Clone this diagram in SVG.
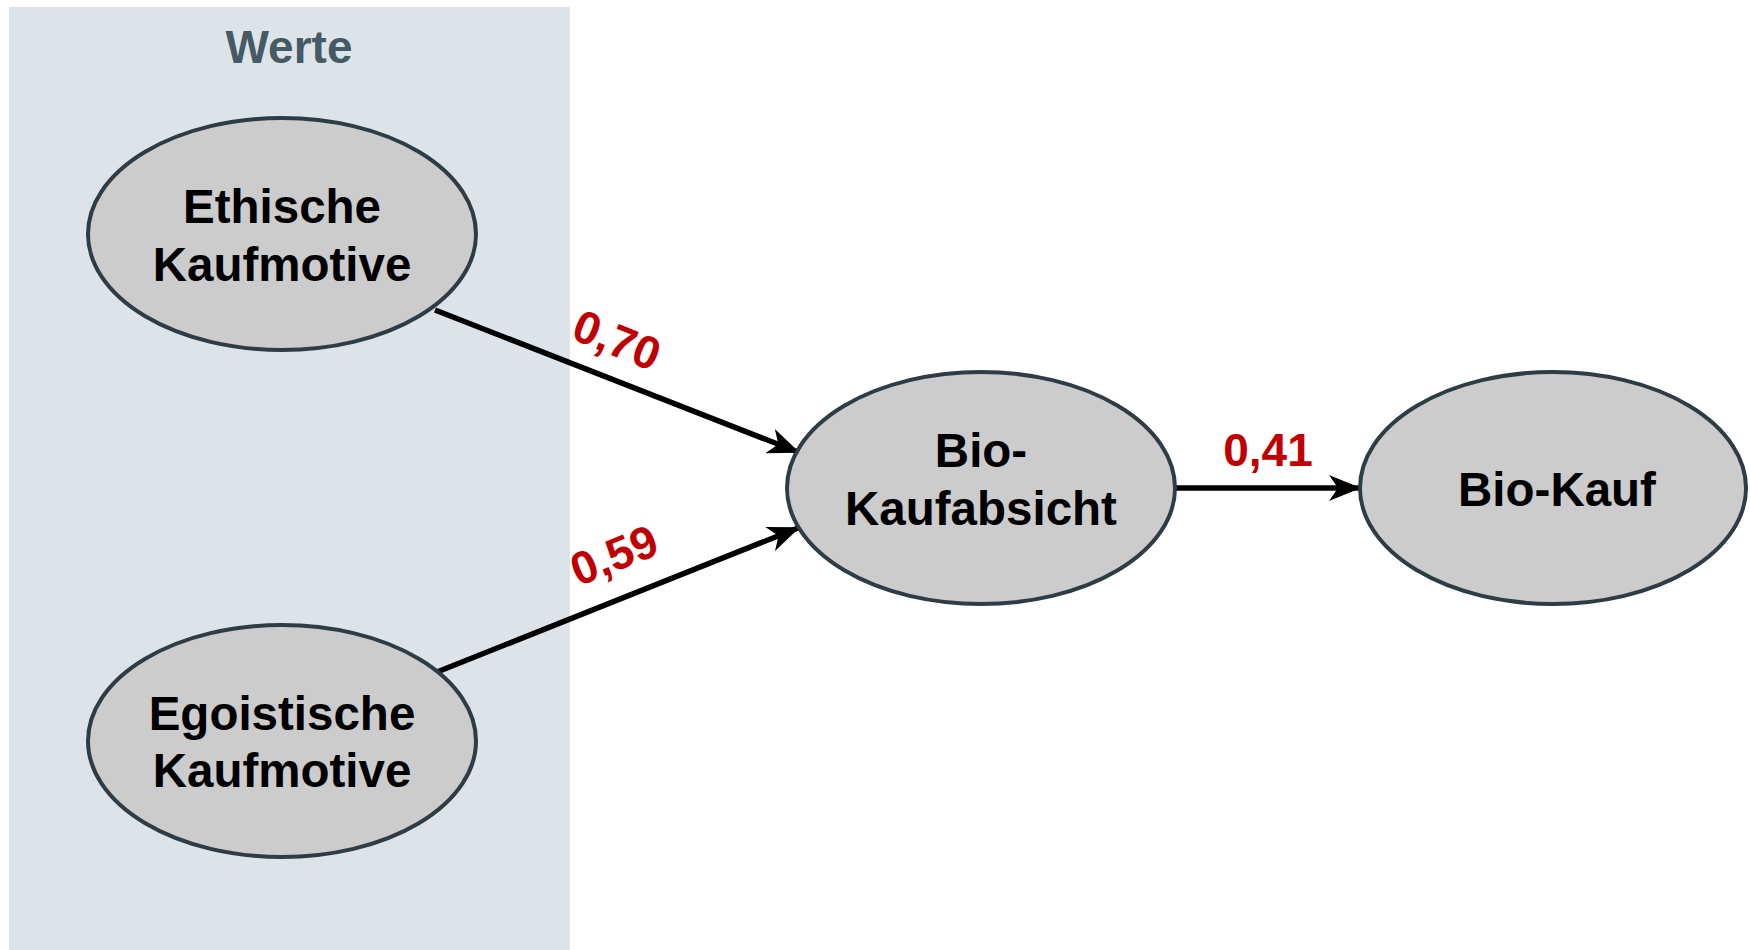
<svg xmlns="http://www.w3.org/2000/svg" width="1750" height="950" viewBox="0 0 1750 950">
<defs>
<marker id="ah" viewBox="0 0 32 26" refX="30" refY="13" markerWidth="32" markerHeight="26" orient="auto" markerUnits="userSpaceOnUse">
<path d="M0,0 L32,13 L0,26 L9,13 Z" fill="#000"/>
</marker>
<style>
.node ellipse{fill:#cccccc;stroke:#2e3d45;stroke-width:4}
.node text{font-family:"Liberation Sans",Arial,sans-serif;font-weight:bold;font-size:47.5px;fill:#000;text-anchor:middle;dominant-baseline:central}
.edge{stroke:#000;stroke-width:5.5;fill:none;marker-end:url(#ah)}
.lbl{font-family:"Liberation Sans",Arial,sans-serif;font-weight:bold;font-size:46px;fill:#c00000;text-anchor:middle;dominant-baseline:central}
</style>
</defs>
<rect width="1750" height="950" fill="#ffffff"/>
<g id="werte">
<rect x="9" y="7" width="561" height="943" fill="#dce4ea"/>
<text x="289" y="47" font-family="Liberation Sans,Arial,sans-serif" font-weight="bold" font-size="46" fill="#455a64" text-anchor="middle" dominant-baseline="central">Werte</text>
</g>
<g id="connectors">
<line class="edge" x1="435" y1="310" x2="798" y2="452"/>
<line class="edge" x1="437" y1="672" x2="798" y2="528"/>
<line class="edge" x1="1174" y1="488" x2="1359" y2="488"/>
<text class="lbl" transform="translate(617,340) rotate(22)">0,70</text>
<text class="lbl" transform="translate(614,555) rotate(-22)">0,59</text>
<text class="lbl" x="1268" y="450">0,41</text>
</g>
<g id="ethische" class="node">
<ellipse cx="282" cy="234" rx="194" ry="116"/>
<text x="282" y="206">Ethische</text>
<text x="282" y="264">Kaufmotive</text>
</g>
<g id="egoistische" class="node">
<ellipse cx="282" cy="741" rx="194" ry="116"/>
<text x="282" y="713">Egoistische</text>
<text x="282" y="770">Kaufmotive</text>
</g>
<g id="kaufabsicht" class="node">
<ellipse cx="981" cy="488" rx="194" ry="116"/>
<text x="981" y="450">Bio-</text>
<text x="981" y="508">Kaufabsicht</text>
</g>
<g id="kauf" class="node">
<ellipse cx="1553" cy="488" rx="193" ry="116"/>
<text x="1557" y="489">Bio-Kauf</text>
</g>
</svg>
